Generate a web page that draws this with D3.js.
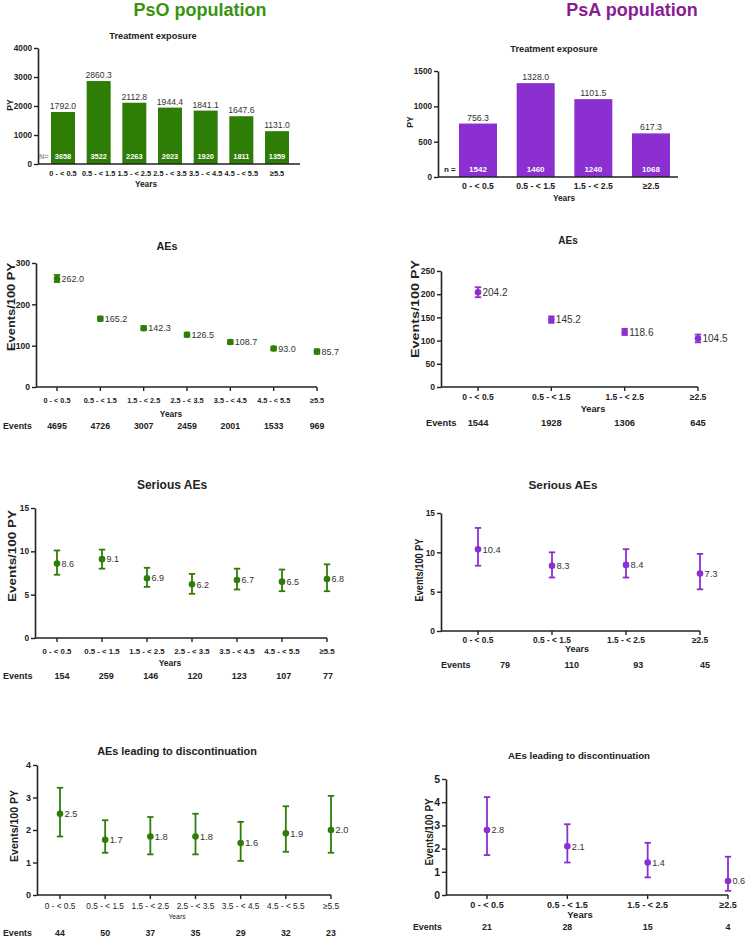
<!DOCTYPE html>
<html>
<head>
<meta charset="utf-8">
<script src="https://cdn.jsdelivr.net/npm/d3@7"></script>
<style>
  body { margin: 0; background: #fff; }
  svg text { font-family: "Liberation Sans", Arial, sans-serif; }
</style>
</head>
<body>
<script>
// categories
const psoCats = ['0 - < 0.5', '0.5 - < 1.5', '1.5 - < 2.5', '2.5 - < 3.5', '3.5 - < 4.5', '4.5 - < 5.5', '≥5.5'];
const psaCats = ['0 - < 0.5', '0.5 - < 1.5', '1.5 - < 2.5', '≥2.5'];

// treatment exposure (PY) and patients per interval
const psoPY = [1792.0, 2860.3, 2112.8, 1944.4, 1841.1, 1647.6, 1131.0];
const psoN = [3658, 3522, 2263, 2023, 1920, 1811, 1359];
const psaPY = [756.3, 1328.0, 1101.5, 617.3];
const psaN = [1542, 1460, 1240, 1068];

// AEs, events/100 PY with 95% CI
const psoAE = [262.0, 165.2, 142.3, 126.5, 108.7, 93.0, 85.7];
const psoAELow = [254.0, 160.3, 137.5, 121.8, 104.2, 88.6, 80.6];
const psoAEHigh = [271.0, 170.2, 147.3, 131.4, 113.4, 97.6, 91.0];
const psoAEEvents = [4695, 4726, 3007, 2459, 2001, 1533, 969];
const psaAE = [204.2, 145.2, 118.6, 104.5];
const psaAELow = [193.5, 138.3, 112.1, 96.3];
const psaAEHigh = [215.0, 152.2, 125.4, 113.0];
const psaAEEvents = [1544, 1928, 1306, 645];

// serious AEs
const psoSAE = [8.6, 9.1, 6.9, 6.2, 6.7, 6.5, 6.8];
const psoSAELow = [7.3, 8.0, 5.9, 5.1, 5.6, 5.4, 5.4];
const psoSAEHigh = [10.1, 10.2, 8.1, 7.4, 8.0, 7.9, 8.5];
const psoSAEEvents = [154, 259, 146, 120, 123, 107, 77];
const psaSAE = [10.4, 8.3, 8.4, 7.3];
const psaSAELow = [8.3, 6.8, 6.8, 5.3];
const psaSAEHigh = [13.1, 10.0, 10.4, 9.8];
const psaSAEEvents = [79, 110, 93, 45];

// AEs leading to discontinuation
const psoDisc = [2.5, 1.7, 1.8, 1.8, 1.6, 1.9, 2.0];
const psoDiscLow = [1.8, 1.3, 1.25, 1.25, 1.05, 1.33, 1.3];
const psoDiscHigh = [3.3, 2.3, 2.4, 2.5, 2.25, 2.73, 3.05];
const psoDiscEvents = [44, 50, 37, 35, 29, 32, 23];
const psaDisc = [2.8, 2.1, 1.4, 0.6];
const psaDiscLow = [1.72, 1.4, 0.76, 0.18];
const psaDiscHigh = [4.22, 3.05, 2.25, 1.65];
const psaDiscEvents = [21, 28, 15, 4];

const green = '#2e7d06';
const purple = '#8b2fd1';
const ink = '#222';

const svg = d3.select('body').append('svg')
  .attr('width', 746)
  .attr('height', 938);

// population headers
svg.append('text').attr('x', 200).attr('y', 16).attr('text-anchor', 'middle')
  .attr('font-size', 18).attr('font-weight', 'bold').attr('fill', '#3a920f')
  .text('PsO population');
svg.append('text').attr('x', 632).attr('y', 16).attr('text-anchor', 'middle')
  .attr('font-size', 18).attr('font-weight', 'bold').attr('fill', '#8a1c93')
  .text('PsA population');

function title(t, x, y, size) {
  svg.append('text').attr('x', x).attr('y', y).attr('text-anchor', 'middle')
    .attr('font-size', size).attr('font-weight', 'bold').attr('fill', ink)
    .text(t);
}

function yLabel(t, x, y, size, len) {
  svg.append('text')
    .attr('transform', `translate(${x},${y}) rotate(-90)`)
    .attr('text-anchor', 'middle').attr('dominant-baseline', 'central')
    .attr('font-size', size).attr('font-weight', 'bold').attr('fill', ink)
    .attr('textLength', len).attr('lengthAdjust', 'spacingAndGlyphs')
    .text(t);
}

function yAxis(o, y) {
  const ax = svg.append('g')
    .attr('transform', `translate(${o.axisX},0)`)
    .call(d3.axisLeft(y).tickValues(o.ticks).tickFormat(d3.format('d'))
      .tickSize(4).tickSizeOuter(0).tickPadding(2));
  ax.select('.domain').attr('stroke', ink).attr('stroke-width', 1.6);
  ax.selectAll('.tick line').attr('stroke', ink).attr('stroke-width', 1.4);
  ax.selectAll('.tick text').attr('font-size', o.yFont).attr('font-weight', 'bold')
    .attr('fill', ink).attr('font-family', '"Liberation Sans", Arial, sans-serif');
}

function drawBars(o) {
  const x = d3.scalePoint().domain(o.cats).range(o.centers);
  const y = d3.scaleLinear().domain(o.domain).range([o.yBot, o.yTop]);

  title('Treatment exposure', o.titleX, o.titleY, 9.2);

  svg.append('g').selectAll('rect')
    .data(o.values)
    .enter().append('rect')
    .attr('x', (d, i) => x(o.cats[i]) - o.bw / 2)
    .attr('y', d => y(d))
    .attr('width', o.bw)
    .attr('height', d => o.yBot - y(d))
    .attr('fill', o.color);

  svg.append('g').selectAll('text')
    .data(o.values)
    .enter().append('text')
    .attr('x', (d, i) => x(o.cats[i]))
    .attr('y', d => y(d) - 3)
    .attr('text-anchor', 'middle')
    .attr('font-size', o.valFont).attr('fill', '#333')
    .text(d => d.toFixed(1));

  svg.append('g').selectAll('text')
    .data(o.n)
    .enter().append('text')
    .attr('x', (d, i) => x(o.cats[i]))
    .attr('y', o.nY)
    .attr('text-anchor', 'middle')
    .attr('font-size', o.nFont).attr('font-weight', 'bold').attr('fill', '#fff')
    .text(d => d);

  svg.append('text').attr('x', o.nLabelX).attr('y', o.nY)
    .attr('font-size', o.nFont).attr('font-weight', 'bold').attr('fill', o.nLabelColor)
    .text(o.nLabel);

  svg.append('line')
    .attr('x1', o.axisX).attr('x2', o.axisEnd)
    .attr('y1', o.yBot).attr('y2', o.yBot)
    .attr('stroke', ink).attr('stroke-width', 1.6);
  yAxis(o, y);

  svg.append('g').selectAll('text')
    .data(o.cats)
    .enter().append('text')
    .attr('x', d => x(d))
    .attr('y', o.tickY)
    .attr('text-anchor', 'middle')
    .attr('font-size', o.xFont).attr('font-weight', 'bold').attr('fill', ink)
    .text(d => d);

  svg.append('text').attr('x', o.yearsX).attr('y', o.yearsY).attr('text-anchor', 'middle')
    .attr('font-size', 8.3).attr('font-weight', 'bold').attr('fill', ink).text('Years');

  yLabel('PY', o.labelX, o.labelY, 8.5, 11.5);
}

function drawPoints(o) {
  const x = d3.scalePoint().domain(o.cats).range(o.points);
  const ex = d3.scalePoint().domain(o.cats).range(o.eventsRange || o.points);
  const y = d3.scaleLinear().domain(o.domain).range([o.yBot, o.yTop]);

  title(o.title, o.titleX, o.titleY, o.titleFont);

  // x axis line and ticks
  svg.append('line')
    .attr('x1', o.axisX).attr('x2', o.points[1])
    .attr('y1', o.yBot).attr('y2', o.yBot)
    .attr('stroke', ink).attr('stroke-width', 1.6);
  svg.append('g').selectAll('line')
    .data(o.cats)
    .enter().append('line')
    .attr('x1', d => x(d)).attr('x2', d => x(d))
    .attr('y1', o.yBot).attr('y2', o.yBot + 4)
    .attr('stroke', ink).attr('stroke-width', 1.4);
  yAxis(o, y);

  svg.append('g').selectAll('text')
    .data(o.cats)
    .enter().append('text')
    .attr('x', d => x(d))
    .attr('y', o.tickY)
    .attr('text-anchor', 'middle')
    .attr('font-size', o.xFont).attr('font-weight', o.xWeight || 'bold').attr('fill', ink)
    .text(d => d);

  svg.append('text').attr('x', o.yearsX).attr('y', o.yearsY).attr('text-anchor', 'middle')
    .attr('font-size', o.yearsFont).attr('font-weight', o.yearsWeight || 'bold').attr('fill', ink)
    .text('Years');

  // events row
  svg.append('text').attr('x', o.eventsX).attr('y', o.eventsY)
    .attr('font-size', o.evFont).attr('font-weight', 'bold').attr('fill', ink)
    .text('Events');
  svg.append('g').selectAll('text')
    .data(o.events)
    .enter().append('text')
    .attr('x', (d, i) => ex(o.cats[i]))
    .attr('y', o.eventsY)
    .attr('text-anchor', 'middle')
    .attr('font-size', o.evFont).attr('font-weight', 'bold').attr('fill', ink)
    .text(d => d);

  // error bars
  const bars = svg.append('g').selectAll('g')
    .data(o.values)
    .enter().append('g')
    .attr('stroke', o.color).attr('stroke-width', 1.8);
  bars.append('line')
    .attr('x1', (d, i) => x(o.cats[i])).attr('x2', (d, i) => x(o.cats[i]))
    .attr('y1', (d, i) => y(o.low[i])).attr('y2', (d, i) => y(o.high[i]));
  bars.append('line')
    .attr('x1', (d, i) => x(o.cats[i]) - 3.2).attr('x2', (d, i) => x(o.cats[i]) + 3.2)
    .attr('y1', (d, i) => y(o.low[i])).attr('y2', (d, i) => y(o.low[i]));
  bars.append('line')
    .attr('x1', (d, i) => x(o.cats[i]) - 3.2).attr('x2', (d, i) => x(o.cats[i]) + 3.2)
    .attr('y1', (d, i) => y(o.high[i])).attr('y2', (d, i) => y(o.high[i]));

  svg.append('g').selectAll('circle')
    .data(o.values)
    .enter().append('circle')
    .attr('cx', (d, i) => x(o.cats[i]))
    .attr('cy', d => y(d))
    .attr('r', o.r || 3.3)
    .attr('fill', o.color);

  svg.append('g').selectAll('text')
    .data(o.values)
    .enter().append('text')
    .attr('x', (d, i) => x(o.cats[i]) + 4.5)
    .attr('y', d => y(d))
    .attr('dy', '0.36em')
    .attr('font-size', o.valFont).attr('fill', '#333')
    .text(d => d.toFixed(1));

  yLabel('Events/100 PY', o.labelX, o.labelY, 10, o.labelLen);
}

// treatment exposure
drawBars({
  cats: psoCats, values: psoPY, n: psoN, color: green,
  axisX: 38, axisEnd: 300, yTop: 48, yBot: 164, centers: [63, 277], bw: 24,
  domain: [0, 4000], ticks: [0, 1000, 2000, 3000, 4000], yFont: 8.2,
  titleX: 153, titleY: 39, valFont: 8.6, nFont: 7.4, nY: 159,
  nLabel: 'N=', nLabelX: 39, nLabelColor: '#9a9a9a',
  tickY: 176, xFont: 7.4, yearsX: 146, yearsY: 187, labelX: 10, labelY: 105
});
drawBars({
  cats: psaCats, values: psaPY, n: psaN, color: purple,
  axisX: 438, axisEnd: 678, yTop: 71, yBot: 177, centers: [478, 651], bw: 38,
  domain: [0, 1500], ticks: [0, 500, 1000, 1500], yFont: 8.2,
  titleX: 554, titleY: 52, valFont: 8.8, nFont: 8, nY: 172,
  nLabel: 'n =', nLabelX: 444, nLabelColor: ink,
  tickY: 189, xFont: 8.6, yearsX: 564, yearsY: 201, labelX: 410, labelY: 122
});

// AEs
drawPoints({
  cats: psoCats, values: psoAE, low: psoAELow, high: psoAEHigh, events: psoAEEvents, color: green,
  title: 'AEs', titleX: 167, titleY: 250, titleFont: 10.8,
  axisX: 36, points: [57, 317], yTop: 263, yBot: 387, domain: [0, 300], ticks: [0, 100, 200, 300], yFont: 8.6,
  tickY: 403, xFont: 7.3, yearsX: 171, yearsY: 417, yearsFont: 8.4,
  eventsX: 3, eventsY: 429, evFont: 8.8, valFont: 9,
  labelX: 11, labelY: 307, labelLen: 88
});
drawPoints({
  cats: psaCats, values: psaAE, low: psaAELow, high: psaAEHigh, events: psaAEEvents, color: purple,
  title: 'AEs', titleX: 568, titleY: 244, titleFont: 10,
  axisX: 441, points: [478, 698], yTop: 271, yBot: 387, domain: [0, 250], ticks: [0, 50, 100, 150, 200, 250], yFont: 8.6,
  tickY: 400, xFont: 8.5, yearsX: 593, yearsY: 412, yearsFont: 9.2,
  eventsX: 426, eventsY: 425.5, evFont: 9.3, valFont: 10,
  labelX: 415, labelY: 309, labelLen: 98
});

// serious AEs
drawPoints({
  cats: psoCats, values: psoSAE, low: psoSAELow, high: psoSAEHigh, events: psoSAEEvents, color: green,
  title: 'Serious AEs', titleX: 172, titleY: 489, titleFont: 12,
  axisX: 35, points: [57, 327], yTop: 508, yBot: 638, domain: [0, 15], ticks: [0, 5, 10, 15], yFont: 8.3,
  eventsRange: [62, 328],
  tickY: 654, xFont: 7.8, yearsX: 170, yearsY: 666, yearsFont: 8.5,
  eventsX: 3, eventsY: 679, evFont: 9, valFont: 9,
  labelX: 12, labelY: 556, labelLen: 92
});
drawPoints({
  cats: psaCats, values: psaSAE, low: psaSAELow, high: psaSAEHigh, events: psaSAEEvents, color: purple,
  title: 'Serious AEs', titleX: 563, titleY: 489, titleFont: 11.8,
  axisX: 441, points: [478, 700], yTop: 513, yBot: 631, domain: [0, 15], ticks: [0, 5, 10, 15], yFont: 8.4,
  eventsRange: [505, 705],
  tickY: 643, xFont: 8.4, yearsX: 577, yearsY: 652, yearsFont: 9,
  eventsX: 441, eventsY: 668, evFont: 9, valFont: 9.4,
  labelX: 419, labelY: 570, labelLen: 63
});

// AEs leading to discontinuation
drawPoints({
  cats: psoCats, values: psoDisc, low: psoDiscLow, high: psoDiscHigh, events: psoDiscEvents, color: green,
  title: 'AEs leading to discontinuation', titleX: 177, titleY: 755, titleFont: 10.9,
  axisX: 37, points: [60, 331], yTop: 765, yBot: 895, domain: [0, 4], ticks: [0, 1, 2, 3, 4], yFont: 9,
  tickY: 909, xFont: 8.3, xWeight: 'normal', yearsX: 177, yearsY: 919, yearsFont: 6.8, yearsWeight: 'normal',
  eventsX: 3, eventsY: 935.5, evFont: 8.8, valFont: 9.3,
  labelX: 14, labelY: 826, labelLen: 72
});
drawPoints({
  cats: psaCats, values: psaDisc, low: psaDiscLow, high: psaDiscHigh, events: psaDiscEvents, color: purple,
  title: 'AEs leading to discontinuation', titleX: 579, titleY: 759, titleFont: 9.7,
  axisX: 446, points: [487, 728], yTop: 779, yBot: 895, domain: [0, 5], ticks: [0, 1, 2, 3, 4, 5], yFont: 10.5,
  tickY: 908, xFont: 9, yearsX: 580, yearsY: 918, yearsFont: 9.5,
  eventsX: 413, eventsY: 930, evFont: 8.8, valFont: 9.1,
  labelX: 429, labelY: 832, labelLen: 67
});
</script>
</body>
</html>
